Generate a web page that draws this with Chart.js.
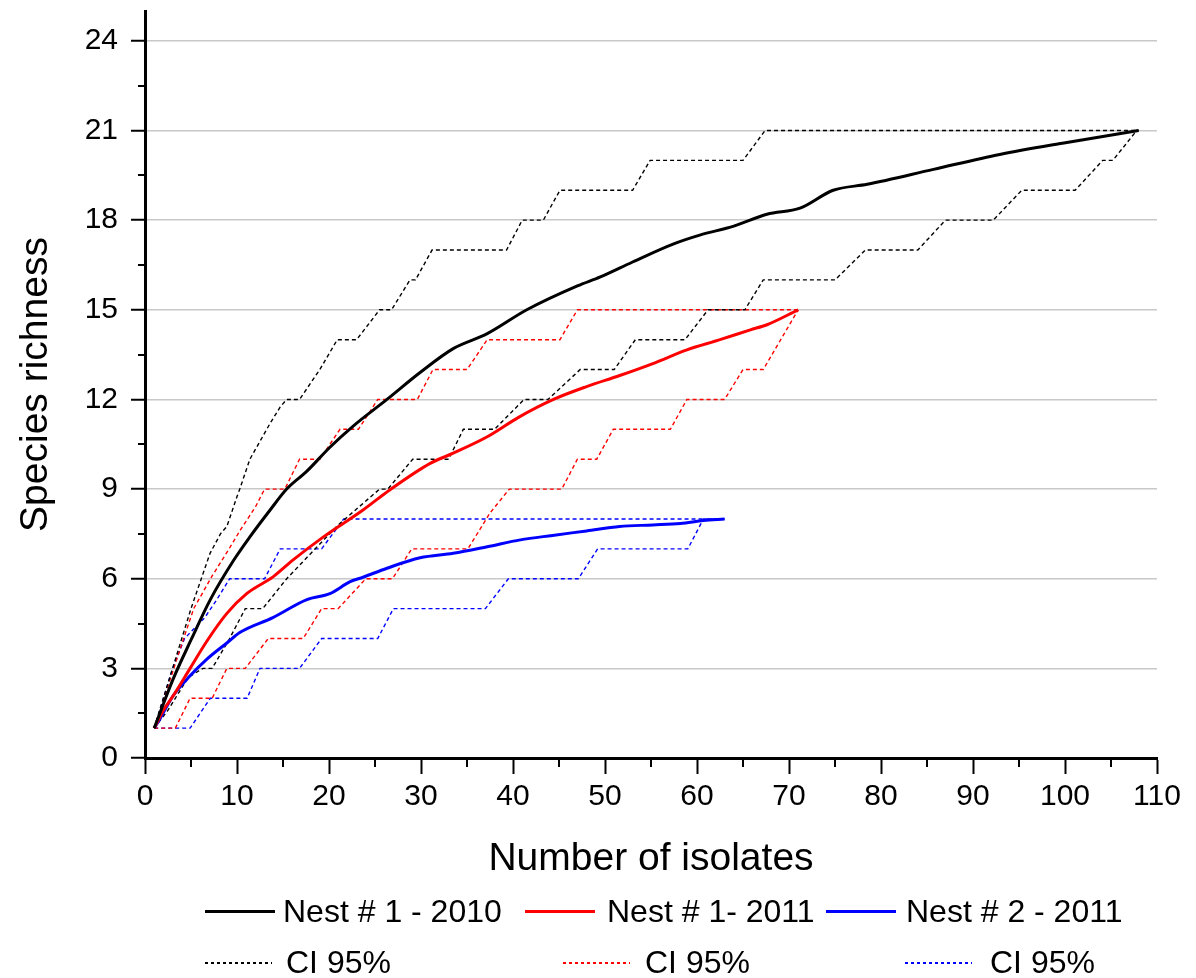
<!DOCTYPE html>
<html lang="en">
  <head>
    <meta charset="UTF-8" />
    <title>Species richness</title>
    <script src="https://cdn.jsdelivr.net/npm/chart.js"></script>
    <style>
      body {
        margin: 0;
        background: #fff;
        font-family: "Liberation Sans", Arial, sans-serif;
      }
      #wrap {
        position: relative;
        width: 1196px;
        height: 978px;
      }
      .leg-line {
        position: absolute;
        height: 3px;
      }
      .leg-dot {
        position: absolute;
        height: 1.5px;
      }
      .leg-text {
        position: absolute;
        font-size: 32px;
        line-height: 32px;
        color: #000;
        white-space: nowrap;
      }
    </style>
  </head>
  <body>
    <div id="wrap">
      <canvas id="richness-chart" width="1196" height="978"></canvas>
      <div id="legend"></div>
    </div>

    <script>
      // rarefaction curves
      const nest1_2010_x = [1, 3, 5, 7.1, 9.6, 11.4, 13.6, 15.4, 17.6, 20.1, 22.6, 26.3, 29.9, 33.5, 37.2, 41.5, 47, 49.5, 53, 57.4, 60.3, 64, 67.6, 71.2, 74.8, 78.5, 85.7, 92.9, 100.2, 108];
      const nest1_2010_y = [1, 2.6, 3.95, 5.3, 6.6, 7.4, 8.3, 9, 9.6, 10.4, 11.1, 12, 12.9, 13.7, 14.2, 15, 15.8, 16.1, 16.6, 17.2, 17.5, 17.8, 18.2, 18.4, 19, 19.2, 19.7, 20.2, 20.6, 21];

      const nest1_2011_x = [1, 2, 3.1, 4.9, 6.7, 8.9, 11.05, 13.95, 16.1, 19.4, 23.7, 26.6, 31, 33.5, 37.2, 40.6, 44.4, 48, 51.6, 55.2, 58.9, 62.5, 65.8, 67.6, 71];
      const nest1_2011_y = [1, 1.6, 2.1, 3, 3.9, 4.84, 5.5, 6.07, 6.63, 7.4, 8.3, 8.97, 9.86, 10.2, 10.75, 11.4, 12, 12.43, 12.8, 13.2, 13.66, 14, 14.33, 14.5, 15];

      const nest2_2011_x = [1, 1.6, 3.1, 4.9, 6.7, 8.9, 10.3, 13.9, 17.6, 20.1, 22.3, 23.7, 26.3, 29.9, 33.5, 37.2, 40.8, 44.3, 48, 51.6, 55.2, 58.2, 60.7, 63];
      const nest2_2011_y = [1, 1.3, 2.1, 2.75, 3.3, 3.85, 4.2, 4.7, 5.3, 5.5, 5.9, 6.05, 6.35, 6.7, 6.85, 7.07, 7.3, 7.45, 7.6, 7.75, 7.8, 7.85, 7.95, 8];

      // 95% confidence bounds
      const ci2010Hi_x = [1, 3, 5, 7.07, 8.2, 8.9, 10, 10.3, 11.4, 12.5, 13.6, 14.7, 15.4, 16.8, 19, 20.9, 23, 25.5, 26.8, 28.8, 29.4, 31.2, 39.3, 41, 43.3, 45.1, 53, 54.9, 65, 67.4, 108];
      const ci2010Hi_y = [1, 3, 5, 6.85, 7.5, 7.75, 8.75, 9, 10, 10.6, 11.2, 11.75, 12, 12, 13, 14, 14, 15, 15, 16, 16, 17, 17, 18, 18, 19, 19, 20, 20, 21, 21];
      const ci2010Lo_x = [1, 2.5, 4.7, 6.3, 7.3, 9.2, 10.9, 12.8, 15.4, 18.5, 21, 24, 25.5, 26.4, 29.1, 33, 34.6, 38, 41.2, 43.8, 47.3, 51, 53.3, 58.7, 61.2, 65.2, 67.2, 75, 78.3, 84, 87, 92.2, 95.3, 101.1, 104.1, 105.2, 107.8, 108];
      const ci2010Lo_y = [1, 1.6, 2.7, 3, 3, 4, 5, 5, 6, 7, 7.8, 8.6, 9, 9, 10, 10, 11, 11, 12, 12, 13, 13, 14, 14, 15, 15, 16, 16, 17, 17, 18, 18, 19, 19, 20, 20, 21, 21];

      const ci2011Hi_x = [1, 4.2, 5.3, 7.25, 9.06, 10.3, 12, 13, 15.2, 16.8, 19, 21.2, 23.2, 25.3, 29.6, 31.3, 35, 37.2, 45.1, 47, 71];
      const ci2011Hi_y = [1, 4, 5, 6.07, 6.96, 7.6, 8.4, 9, 9, 10, 10, 11, 11, 12, 12, 13, 13, 14, 14, 15, 15];
      const ci2011Lo_x = [1, 3.3, 4.9, 7.3, 8.9, 10.9, 13.4, 17.2, 19.2, 21, 24, 26.9, 29, 35.1, 37.5, 39.6, 45.3, 47, 49.1, 50.9, 57.1, 58.9, 63, 65, 67.2, 71];
      const ci2011Lo_y = [1, 1, 2, 2, 3, 3, 4, 4, 5, 5, 6, 6, 7, 7, 8.2, 9, 9, 10, 10, 11, 11, 12, 12, 13, 13, 15];

      const ciNest2Hi_x = [1, 3, 4.3, 6.5, 7.8, 9.2, 13, 14.7, 19.2, 21.6, 63];
      const ciNest2Hi_y = [1, 3, 4, 4.7, 5.3, 6, 6, 7, 7, 8, 8];
      const ciNest2Lo_x = [1, 4.9, 7.1, 11.1, 12.5, 16.8, 19.2, 25.3, 27, 37, 39.5, 47.1, 49.2, 59, 60.7, 63];
      const ciNest2Lo_y = [1, 1, 2, 2, 3, 3, 4, 4, 5, 5, 6, 6, 7, 7, 8, 8];

      const seriesNames = ["Nest # 1 - 2010", "Nest # 1- 2011", "Nest # 2 - 2011"];
      const ciName = "CI 95%";
      const seriesColors = ["#000000", "#ff0000", "#0000ff"];

      const FONT = '"Liberation Sans", Arial, sans-serif';

      function pts(xs, ys) {
        return xs.map((x, i) => ({ x: x, y: ys[i] }));
      }

      function meanSet(xs, ys, color) {
        return {
          data: pts(xs, ys),
          borderColor: color,
          borderWidth: 3,
          cubicInterpolationMode: "monotone",
          pointRadius: 0,
        };
      }

      function ciSet(xs, ys, color) {
        return {
          data: pts(xs, ys),
          borderColor: color,
          borderWidth: 1.4,
          borderDash: [4, 3],
          pointRadius: 0,
        };
      }

      // small outside ticks between the labelled ones
      const minorTicks = {
        id: "minorTicks",
        afterDraw(chart) {
          const { ctx, scales } = chart;
          const x = scales.x;
          const y = scales.y;
          ctx.save();
          ctx.strokeStyle = "#000";
          ctx.lineWidth = 2;
          for (let v = 5; v < 110; v += 10) {
            const px = Math.round(x.getPixelForValue(v));
            ctx.beginPath();
            ctx.moveTo(px, x.top);
            ctx.lineTo(px, x.top + 9);
            ctx.stroke();
          }
          for (let v = 1.5; v < 25; v += 3) {
            const py = Math.round(y.getPixelForValue(v));
            ctx.beginPath();
            ctx.moveTo(y.right, py);
            ctx.lineTo(y.right - 7, py);
            ctx.stroke();
          }
          ctx.restore();
        },
      };

      const ctx = document.getElementById("richness-chart").getContext("2d");
      new Chart(ctx, {
        type: "line",
        data: {
          datasets: [
            meanSet(nest1_2010_x, nest1_2010_y, seriesColors[0]),
            meanSet(nest1_2011_x, nest1_2011_y, seriesColors[1]),
            meanSet(nest2_2011_x, nest2_2011_y, seriesColors[2]),
            ciSet(ci2010Hi_x, ci2010Hi_y, seriesColors[0]),
            ciSet(ci2010Lo_x, ci2010Lo_y, seriesColors[0]),
            ciSet(ci2011Hi_x, ci2011Hi_y, seriesColors[1]),
            ciSet(ci2011Lo_x, ci2011Lo_y, seriesColors[1]),
            ciSet(ciNest2Hi_x, ciNest2Hi_y, seriesColors[2]),
            ciSet(ciNest2Lo_x, ciNest2Lo_y, seriesColors[2]),
          ],
        },
        options: {
          responsive: false,
          animation: false,
          layout: { padding: { top: 11, right: 39, left: 0, bottom: 0 } },
          plugins: { legend: { display: false }, tooltip: { enabled: false } },
          scales: {
            x: {
              type: "linear",
              min: 0,
              max: 110,
              ticks: {
                stepSize: 10,
                color: "#000",
                padding: 5,
                maxRotation: 0,
                font: { family: FONT, size: 30 },
              },
              grid: {
                drawOnChartArea: false,
                tickLength: 16,
                tickWidth: 2,
                tickColor: "#000",
              },
              border: { width: 3, color: "#000" },
              title: {
                display: true,
                text: "Number of isolates",
                color: "#000",
                font: { family: FONT, size: 39 },
                padding: { top: 0, bottom: 95 },
              },
              afterFit(scale) {
                scale.height = 220;
              },
            },
            y: {
              min: 0,
              max: 25,
              ticks: {
                stepSize: 3,
                includeBounds: false,
                color: "#000",
                padding: 13,
                font: { family: FONT, size: 30 },
              },
              grid: {
                color: "#c8c8c8",
                lineWidth: 1.5,
                tickLength: 14,
                tickWidth: 2,
                tickColor: "#000",
              },
              border: { width: 3, color: "#000" },
              title: {
                display: true,
                text: "Species richness",
                color: "#000",
                font: { family: FONT, size: 39 },
                padding: { top: 13, bottom: 0 },
              },
              afterFit(scale) {
                scale.width = 145;
                scale.paddingTop = 0;
                scale.paddingBottom = 0;
              },
            },
          },
        },
        plugins: [minorTicks],
      });

      // legend below the chart, two rows of three columns
      const legend = document.getElementById("legend");
      const rowTop = [911, 962];
      const solidLeft = [205, 525, 826];
      const solidText = [283, 607, 906];
      const dotLeft = [205, 563, 905];
      const dotText = [286, 645, 990];

      function addEl(cls, left, top, width, css) {
        const el = document.createElement("div");
        el.className = cls;
        el.style.left = left + "px";
        el.style.top = top + "px";
        if (width) el.style.width = width + "px";
        Object.assign(el.style, css || {});
        legend.appendChild(el);
        return el;
      }

      seriesColors.forEach((c, i) => {
        addEl("leg-line", solidLeft[i], rowTop[0] - 1, 70, { background: c });
        addEl("leg-text", solidText[i], rowTop[0] - 16).textContent = seriesNames[i];
        addEl("leg-dot", dotLeft[i], rowTop[1], 67, {
          background: `repeating-linear-gradient(to right, ${c} 0 3px, transparent 3px 6px)`,
        });
        addEl("leg-text", dotText[i], rowTop[1] - 16).textContent = ciName;
      });
    </script>
  </body>
</html>
